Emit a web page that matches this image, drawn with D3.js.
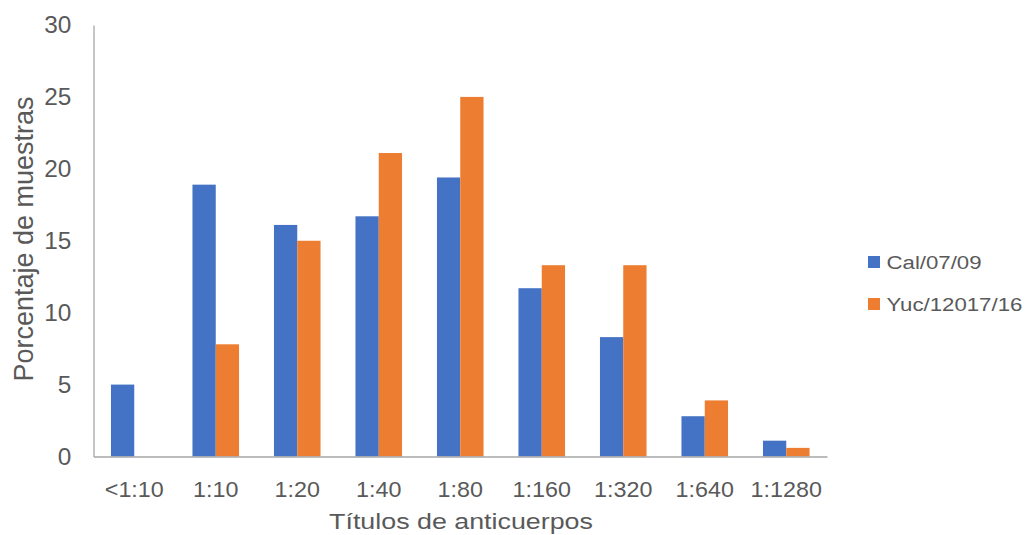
<!DOCTYPE html>
<html>
<head>
<meta charset="utf-8">
<script src="https://cdn.jsdelivr.net/npm/d3@7"></script>
<style>
  html, body { margin: 0; padding: 0; background: #ffffff; }
  svg { display: block; font-family: "Liberation Sans", Arial, sans-serif; }
</style>
</head>
<body>
<svg id="chart" width="1036" height="535"></svg>
<script>
// Antibody titre categories and the share of samples per strain
const categories = ["<1:10", "1:10", "1:20", "1:40", "1:80", "1:160", "1:320", "1:640", "1:1280"];
const seriesNames = ["Cal/07/09", "Yuc/12017/16"];
const calValues = [5.0, 18.9, 16.1, 16.7, 19.4, 11.7, 8.3, 2.8, 1.1];
const yucValues = [0, 7.8, 15.0, 21.1, 25.0, 13.3, 13.3, 3.9, 0.6];
const yTicks = [0, 5, 10, 15, 20, 25, 30];
const colors = ["#4472C4", "#ED7D31"];

const svg = d3.select("#chart");
const textColor = "#595959";
const axisColor = "#A6A6A6";

const plot = { left: 93.5, right: 827, top: 25, bottom: 456.5 };

const x0 = d3.scaleBand()
  .domain(categories)
  .range([plot.left, plot.right])
  .paddingInner(0.4286)
  .paddingOuter(0.2143);

const x1 = d3.scaleBand()
  .domain(seriesNames)
  .range([0, x0.bandwidth()]);

const y = d3.scaleLinear().domain([0, 30]).range([plot.bottom, plot.top]);

const seriesData = [calValues, yucValues];

// Bars
seriesNames.forEach((name, si) => {
  svg.append("g")
    .selectAll("rect")
    .data(seriesData[si].map((v, i) => ({ cat: categories[i], v })))
    .join("rect")
    .attr("x", d => x0(d.cat) + x1(name))
    .attr("y", d => y(d.v))
    .attr("width", x1.bandwidth())
    .attr("height", d => y(0) - y(d.v))
    .attr("fill", colors[si]);
});

// Y axis: line plus labels, no tick marks
const yAxis = svg.append("g")
  .attr("transform", `translate(${plot.left},0)`)
  .call(d3.axisLeft(y).tickValues(yTicks).tickSize(0).tickPadding(21));
yAxis.select(".domain").attr("stroke", axisColor).attr("stroke-width", 1.3);
yAxis.selectAll("text")
  .attr("fill", textColor)
  .style("font-size", "23px")
  .attr("dy", "0.34em")
  .attr("transform", "scale(1.06,1)");

// X axis
const xAxis = svg.append("g")
  .attr("transform", `translate(0,${plot.bottom})`)
  .call(d3.axisBottom(x0).tickSize(0).tickPadding(0));
xAxis.select(".domain").attr("stroke", axisColor).attr("stroke-width", 1.6);
xAxis.selectAll(".tick text")
  .attr("fill", textColor)
  .style("font-size", "22px")
  .attr("dy", null)
  .attr("y", 40.5)
  .attr("transform", "scale(1.06,1)");

// Axis titles
svg.append("text")
  .attr("transform", "translate(461,528.5) scale(1.22,1)")
  .attr("text-anchor", "middle")
  .attr("fill", textColor)
  .style("font-size", "22px")
  .text("Títulos de anticuerpos");

svg.append("text")
  .attr("transform", "translate(33,239) rotate(-90)")
  .attr("text-anchor", "middle")
  .attr("fill", textColor)
  .style("font-size", "27px")
  .text("Porcentaje de muestras");

// Legend
const legend = svg.append("g");
const legendRows = [262, 304];
seriesNames.forEach((name, i) => {
  legend.append("rect")
    .attr("x", 868)
    .attr("y", legendRows[i] - 6)
    .attr("width", 12)
    .attr("height", 12)
    .attr("fill", colors[i]);
  legend.append("text")
    .attr("transform", `translate(886.5,${legendRows[i] + 7}) scale(1.17,1)`)
    .attr("fill", textColor)
    .style("font-size", "19px")
    .text(name);
});
</script>
</body>
</html>
